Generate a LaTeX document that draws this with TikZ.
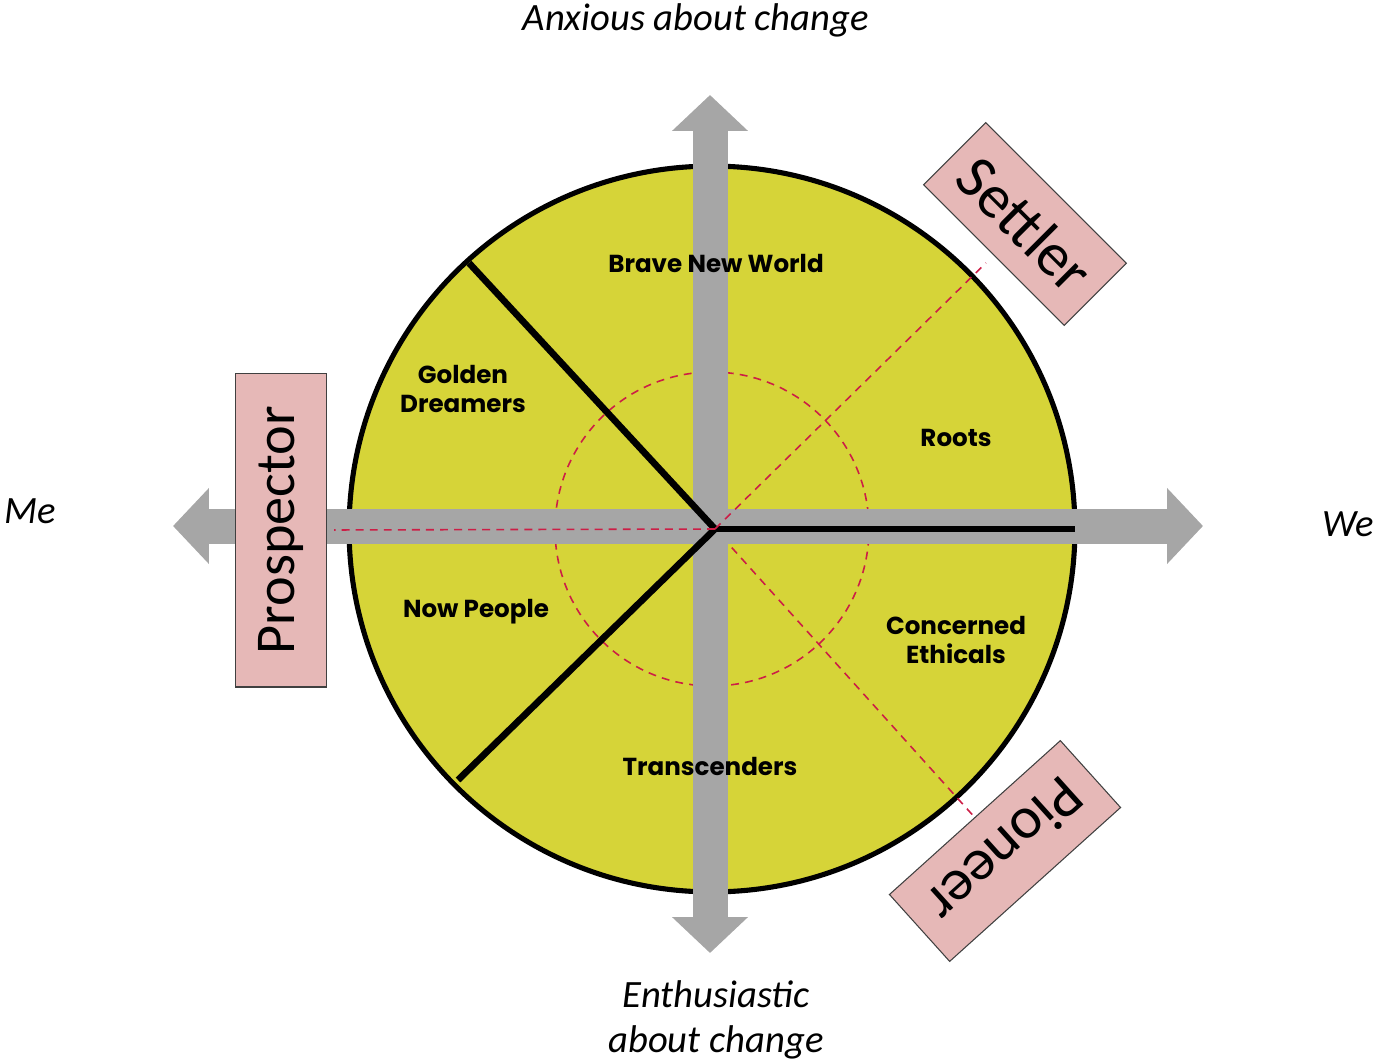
\documentclass[tikz,border=0pt]{standalone}
\usepackage{fontspec}
\setmainfont{Carlito}
\newfontfamily\Seg{Poppins}
\usepackage{tikz}
\usetikzlibrary{arrows.meta}
\definecolor{Wheel}{RGB}{214,212,56}
\definecolor{Axis}{RGB}{166,166,166}
\definecolor{Tag}{RGB}{230,184,183}
\definecolor{Guide}{RGB}{204,30,70}

\begin{document}
\begin{tikzpicture}[x=0.02cm, y=-0.02cm,
    axisbar/.style = {draw=Axis, line width=0.7cm,
      {Triangle[width=1.48cm,length=0.72cm]}-{Triangle[width=1.48cm,length=0.72cm]}},
    divider/.style = {line width=3.8pt, line join=miter},
    guide/.style = {draw=Guide, line width=0.9pt, dash pattern=on 4.5pt off 3.5pt},
    typebox/.style = {draw=black!75, line width=0.6pt, fill=Tag, inner sep=0pt},
    seg/.style = {font=\Seg\bfseries\fontsize{14}{16.5}\selectfont, align=center},
    pole/.style = {font=\itshape\fontsize{22}{25.5}\selectfont, align=center}]
  \useasboundingbox (0,0) rectangle (1373,1062);
  \coordinate (c) at (712,529);
  \coordinate (hub) at (715,529);

  % wheel
  \fill[Wheel] (c) circle [radius=7.26cm];
  \draw[line width=2.9pt] (c) circle [radius=7.26cm];
  \draw[guide] (c) circle [radius=3.14cm];

  % axes
  \coordinate (up) at (710,95);
  \coordinate (down) at (710,953);
  \coordinate (left) at (173,526);
  \coordinate (right) at (1203,526);
  \draw[axisbar] (down) -- (up);
  \draw[axisbar] (left) -- (right);

  % segment borders
  \coordinate (gdtop) at (469,263);
  \coordinate (nplow) at (458,780);
  \coordinate (rim) at (1075,529);
  \draw[divider] (gdtop) -- (hub) -- (nplow);
  \draw[divider] (hub) -- (rim);

  % types
  \node[typebox, font=\fontsize{32}{32}\selectfont, minimum width=6.28cm, minimum height=1.82cm, rotate=90] (prospector) at (281,530) {Prospector};
  \node[typebox, font=\fontsize{35}{35}\selectfont, minimum width=3.98cm, minimum height=1.76cm, rotate=-45] (settler) at (1025,224) {Settler};
  \node[typebox, font=\fontsize{34}{34}\selectfont, minimum width=4.6cm, minimum height=1.8cm, rotate=222] (pioneer) at (1005,851) {Pioneer};

  \draw[guide, shorten >=4pt] (hub) -- (prospector.south);
  \draw[guide, shorten >=6pt] (hub) -- (settler.south);
  \draw[guide, shorten <=0.5cm] (hub) -- (pioneer.south);

  % segments
  \foreach \n/\p/\t in {bnw/{716,263}/Brave New World, gd/{463,389}/{Golden\\Dreamers},
      roots/{956,438}/Roots, np/{476,612}/Now People,
      ce/{956,640}/{Concerned\\Ethicals}, tr/{710,766}/Transcenders}
    \node[seg] (\n) at (\p) {\t};

  % poles
  \node[pole] (anx) at (696,20) {Anxious about change};
  \node[pole] (me) at (30,511) {Me};
  \node[pole] (we) at (1348,524) {We};
  \node[pole] (enth) at (716,1020) {Enthusiastic\\about change};
\end{tikzpicture}
\end{document}
